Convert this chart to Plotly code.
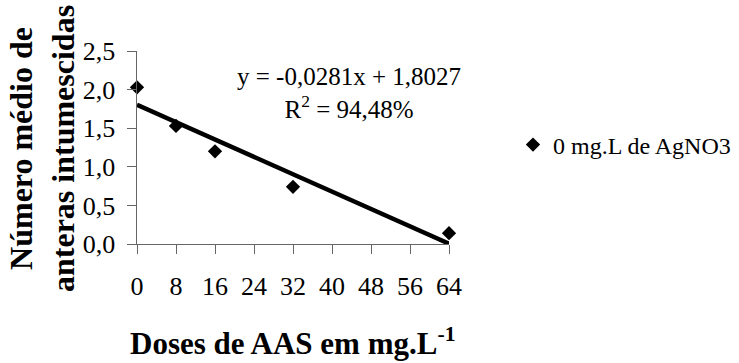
import plotly.graph_objects as go

# Data
doses = [0, 8, 16, 32, 64]
anteras = [2.03, 1.53, 1.20, 0.74, 0.14]
series_name = "0 mg.L de AgNO3"
slope = -0.0281
intercept = 1.8027
r2_text = "94,48%"
x_ticks = [0, 8, 16, 24, 32, 40, 48, 56, 64]
y_ticks = [0.0, 0.5, 1.0, 1.5, 2.0, 2.5]
y_tick_labels = ["0,0", "0,5", "1,0", "1,5", "2,0", "2,5"]

FONT = "Liberation Serif"
trend_x = [min(doses), max(doses)]
trend_y = [intercept + slope * v for v in trend_x]

fig = go.Figure()
fig.add_trace(go.Scatter(
    x=trend_x, y=trend_y, mode="lines",
    line=dict(color="black", width=4.5),
    showlegend=False, hoverinfo="skip", cliponaxis=False,
))
fig.add_trace(go.Scatter(
    x=doses, y=anteras, mode="markers", name=series_name,
    marker=dict(symbol="diamond", size=11, color="black"),
    cliponaxis=False,
))

fig.update_layout(
    width=739, height=363,
    margin=dict(l=137, r=290, t=51, b=119),
    paper_bgcolor="white", plot_bgcolor="white",
    font=dict(family=FONT, color="black", size=25),
    legend=dict(
        xref="container", yref="container",
        x=513 / 739, y=1 - 145 / 363, xanchor="left", yanchor="middle",
        font=dict(family=FONT, size=24, color="black"),
        bgcolor="rgba(0,0,0,0)",
    ),
    xaxis=dict(
        range=[0, 64], tickvals=x_ticks, ticktext=[str(v) for v in x_ticks],
        showgrid=False, zeroline=False, showline=True,
        linecolor="#666", linewidth=1,
        ticks="outside", ticklen=9, tickcolor="#666", tickwidth=1,
        ticklabelstandoff=10,
        tickfont=dict(family=FONT, size=26, color="black"),
    ),
    yaxis=dict(
        range=[0, 2.5], tickvals=y_ticks,
        ticktext=[t + "\u00a0" for t in y_tick_labels],
        showgrid=False, zeroline=False, showline=True,
        linecolor="#666", linewidth=1,
        ticks="outside", ticklen=9, tickcolor="#666", tickwidth=1,
        ticklabelstandoff=0,
        tickfont=dict(family=FONT, size=26, color="black"),
    ),
    annotations=[
        dict(
            text=f"y = {slope:.4f}x + {intercept:.4f}".replace(".", ",") + f"<br>R<sup>2</sup> = {r2_text}",
            xref="paper", yref="paper",
            x=(349 - 137) / 312, y=(244 - 93) / 193,
            xanchor="center", yanchor="middle", showarrow=False, align="center",
            font=dict(family=FONT, size=25, color="black"),
        ),
        dict(
            text="<b>Doses de AAS em mg.L<sup>-1</sup></b>",
            xref="paper", yref="paper",
            x=0.5, y=-(341 - 244) / 193,
            xanchor="center", yanchor="middle", showarrow=False,
            font=dict(family=FONT, size=31, color="black"),
        ),
        dict(
            text="<b>Número médio de<br>anteras intumescidas</b>",
            xref="paper", yref="paper",
            x=(42 - 137) / 312, y=(244 - 149) / 193, textangle=-90,
            xanchor="center", yanchor="middle", showarrow=False,
            font=dict(family=FONT, size=32, color="black"),
        ),
    ],
)

fig.write_html(
    "out.html",
    config={"displayModeBar": False},
    post_script="document.body.style.margin='0';document.body.style.overflow='hidden';",
)
